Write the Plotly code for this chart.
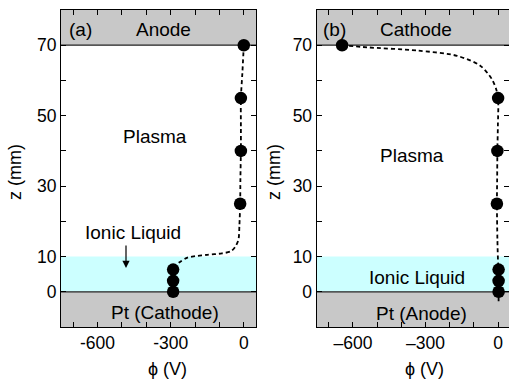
import plotly.graph_objects as go

# ---- data ----
pts_a_phi = [0, -12, -12, -15, -290, -290, -290]
pts_a_z = [70, 55, 40, 25, 6.3, 3.1, 0]
curve_a_phi = [0, -6, -12, -12, -12, -14, -15, -18, -22, -35, -53, -90, -150, -200, -231, -259, -280, -290]
curve_a_z = [70, 62, 55, 47, 40, 32, 25, 19, 14.8, 12.8, 11.5, 10.9, 10.5, 10.1, 9.7, 8.6, 7.5, 6.3]

pts_b_phi = [-645, 0, -3, -5, 2, 2, 2]
pts_b_z = [70, 55, 40, 25, 6.3, 3.1, 0]
curve_b_phi = [-645, -541, -335, -170, -74, -26, -8, 0, -1, -3, -4, -5, -3, 0, 2, 2, 2]
curve_b_z = [70, 69.4, 68.5, 67, 64.2, 60.4, 57.5, 55, 47, 40, 32, 25, 15, 8, 6.3, 3.1, -3]

x_ticks = [-700, -600, -500, -400, -300, -200, -100, 0]
x_labels_a = ["", "-600", "", "", "-300", "", "", "0"]
x_labels_b = ["", "\u2013600", "", "", "\u2013300", "", "", "0"]
y_ticks = [-10, 0, 10, 20, 30, 40, 50, 60, 70, 80]
y_labels = ["", "0", "10", "", "30", "", "50", "", "70", ""]

GRAY = "#c8c8c8"
CYAN = "#ccffff"
FONT = "Liberation Sans, Arial, sans-serif"
FS_TICK = 17.5
FS_ANN = 19
FS_TITLE = 18

W, H = 509, 381
def px(x):
    return x / W
def py(y):
    return 1 - y / H

fig = go.Figure()

for i, (cphi, cz, pphi, pz) in enumerate([(curve_a_phi, curve_a_z, pts_a_phi, pts_a_z),
                                           (curve_b_phi, curve_b_z, pts_b_phi, pts_b_z)]):
    xa = "x" if i == 0 else "x2"
    ya = "y" if i == 0 else "y2"
    fig.add_trace(go.Scatter(x=cphi, y=cz, mode="lines", xaxis=xa, yaxis=ya,
                             line=dict(color="black", width=1.8, dash="4px,3px", shape="spline", smoothing=0.8),
                             showlegend=False, hoverinfo="skip"))
    fig.add_trace(go.Scatter(x=pphi, y=pz, mode="markers", xaxis=xa, yaxis=ya,
                             marker=dict(color="black", size=12.5),
                             showlegend=False, cliponaxis=False))

axis_common = dict(ticks="inside", ticklen=5, tickwidth=1, tickcolor="black", showline=True,
                   linecolor="black", linewidth=1.2, mirror="ticks", showgrid=False, zeroline=False,
                   tickfont=dict(family=FONT, size=FS_TICK, color="black"))

fig.update_layout(
    width=W, height=H, margin=dict(l=0, r=0, t=0, b=0),
    paper_bgcolor="white", plot_bgcolor="white",
    xaxis=dict(domain=[px(61), px(256)], range=[-750, 50], tickmode="array",
               tickvals=x_ticks, ticktext=x_labels_a, anchor="y", **axis_common),
    yaxis=dict(domain=[py(327), py(10)], range=[-10, 80], tickmode="array",
               tickvals=y_ticks, ticktext=y_labels, anchor="x", **axis_common),
    xaxis2=dict(domain=[px(316.7), 1.0], range=[-750, 45], tickmode="array",
                tickvals=x_ticks, ticktext=x_labels_b, anchor="y2", **axis_common),
    yaxis2=dict(domain=[py(327), py(10)], range=[-10, 80], tickmode="array",
                tickvals=y_ticks, ticktext=y_labels, anchor="x2", **axis_common),
)

shapes = []
for xr, yr in [("x domain", "y"), ("x2 domain", "y2")]:
    shapes += [
        dict(type="rect", xref=xr, yref=yr, x0=0, x1=1, y0=70, y1=80, fillcolor=GRAY, line_width=0, layer="below"),
        dict(type="rect", xref=xr, yref=yr, x0=0, x1=1, y0=-10, y1=0, fillcolor=GRAY, line_width=0, layer="below"),
        dict(type="rect", xref=xr, yref=yr, x0=0, x1=1, y0=0, y1=10, fillcolor=CYAN, line_width=0, layer="below"),
        dict(type="line", xref=xr, yref=yr, x0=0, x1=1, y0=70, y1=70, line=dict(color="#222", width=1.2), layer="below"),
        dict(type="line", xref=xr, yref=yr, x0=0, x1=1, y0=0, y1=0, line=dict(color="#222", width=1.2), layer="below"),
    ]
fig.update_layout(shapes=shapes)

def ann(text, x, y, size=FS_ANN, **kw):
    d = dict(text=text, x=x, y=y, xref="paper", yref="paper", showarrow=False,
             font=dict(family=FONT, size=size, color="black"), xanchor="center", yanchor="middle")
    d.update(kw)
    return d

annotations = [
    ann("(a)", px(80), py(29)),
    ann("Anode", px(163), py(29)),
    ann("Plasma", px(155), py(137)),
    ann("Ionic Liquid", px(133), py(233)),
    ann("Pt (Cathode)", px(165), py(312)),
    ann("(b)", px(334), py(29)),
    ann("Cathode", px(416), py(29)),
    ann("Plasma", px(412), py(156)),
    ann("Ionic Liquid", px(417), py(277)),
    ann("Pt (Anode)", px(421), py(313)),
    ann("z (mm)", px(15), py(172), size=FS_TITLE, textangle=-90),
    ann("z (mm)", px(274), py(172), size=FS_TITLE, textangle=-90),
    ann("\u03d5 (V)", px(167), py(369), size=FS_TITLE),
    ann("\u03d5 (V)", px(424), py(369), size=FS_TITLE),
    dict(x=px(126), y=py(268), ax=0, ay=-24, xref="paper", yref="paper",
         axref="pixel", ayref="pixel", showarrow=True, arrowhead=2, arrowsize=1.2,
         arrowwidth=1.2, arrowcolor="black", text=""),
]
fig.update_layout(annotations=annotations)

fig.write_html("out.html", config={"displayModeBar": False},
               post_script="document.body.style.margin='0';document.body.style.overflow='hidden';")
